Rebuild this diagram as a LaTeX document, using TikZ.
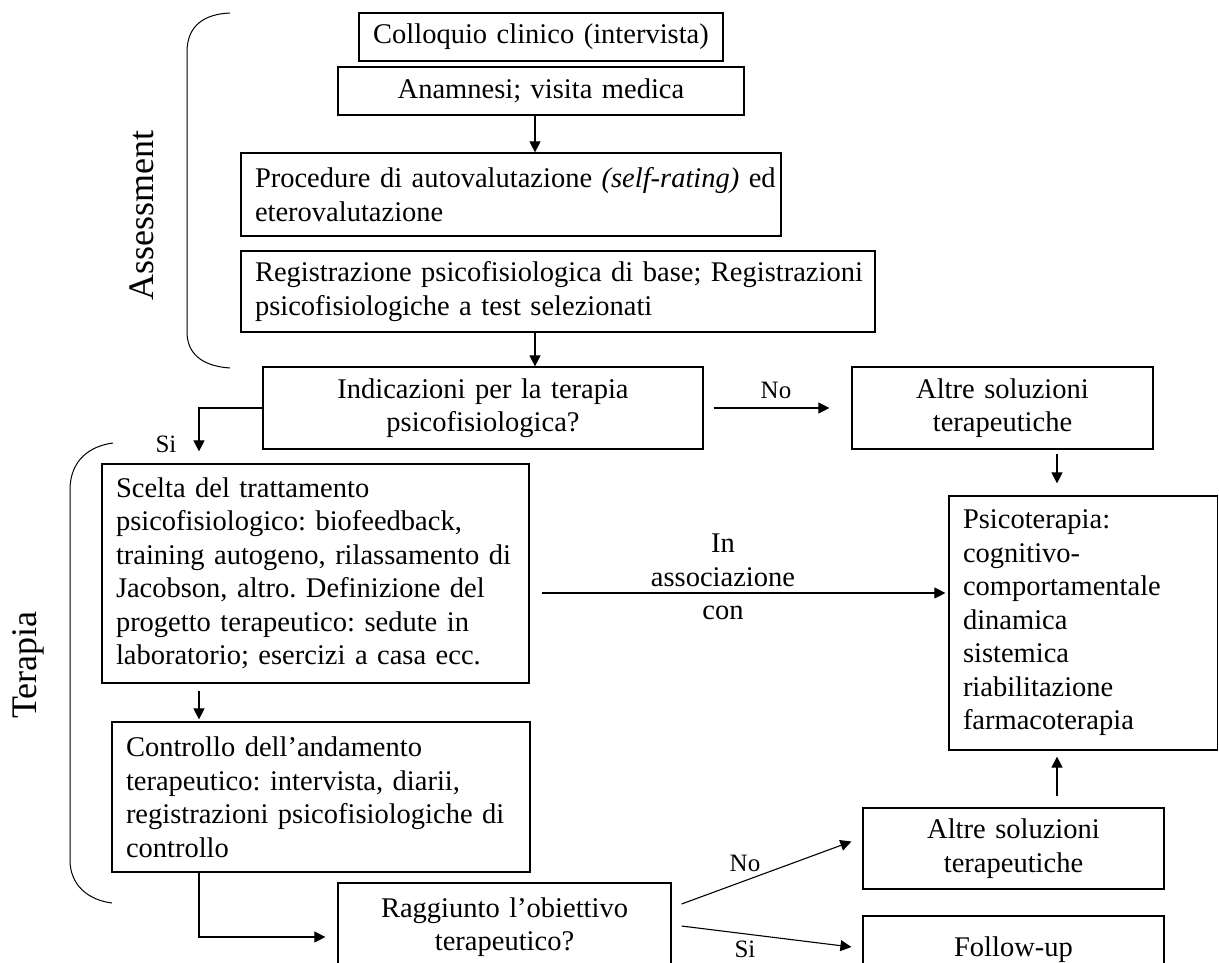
\documentclass[tikz,border=0pt]{standalone}
\usepackage{fontspec}
\setmainfont{Liberation Serif}
\usetikzlibrary{arrows.meta,calc}
\frenchspacing
\begin{document}
\begin{tikzpicture}[x=1pt,y=-1pt,
  box/.style={draw=black, line width=1.2pt, inner xsep=14pt, inner ysep=0pt, font=\fontsize{28.5}{33.5}\selectfont},
  boxl/.style={box, align=left},
  boxc/.style={box, align=center},
  arr/.style={line width=1.1pt, -{Triangle[length=11pt,width=11pt]}},
  lbl/.style={font=\fontsize{25}{28}\selectfont, inner sep=0pt},
  side/.style={font=\fontsize{36}{40}\selectfont, rotate=90, anchor=base, inner sep=0pt},
  brace/.style={line width=1pt}]
\useasboundingbox (0,0) rectangle (1219,962);
\fill[white] (0,0) rectangle (1219,962);
\clip (0,0) rectangle (1219,962);

\node[boxc, text width=336pt, minimum height=48pt] (b1) at (541,37) {Colloquio clinico (intervista)};
\node[boxc, text width=378pt, minimum height=48pt] (b2) at (541,91) {Anamnesi; visita medica};
\node[boxl, text width=512pt, minimum height=83pt] (b3) at (511,194.5) {\mbox{Procedure di autovalutazione \textit{(self-rating)} ed}\\eterovalutazione};
\node[boxl, text width=606pt, minimum height=81pt] (b4) at (558,291.5) {\mbox{Registrazione psicofisiologica di base; Registrazioni}\\psicofisiologiche a test selezionati};
\node[boxc, text width=412pt, minimum height=82pt] (b5) at (483,408) {Indicazioni per la terapia\\psicofisiologica?};
\node[boxc, text width=273pt, minimum height=82pt] (b6) at (1002.5,408) {Altre soluzioni\\terapeutiche};
\node[boxl, text width=240.5pt, minimum height=254pt] (b7) at (1083.25,623) {Psicoterapia:\\cognitivo-\\comportamentale\\dinamica\\sistemica\\riabilitazione\\farmacoterapia};
\node[boxl, text width=399pt, minimum height=219pt] (b8) at (315.5,573.5) {Scelta del trattamento\\ \mbox{psicofisiologico: biofeedback,}\\ \mbox{training autogeno, rilassamento di}\\ \mbox{Jacobson, altro. Definizione del}\\ \mbox{progetto terapeutico: sedute in}\\ \mbox{laboratorio; esercizi a casa ecc.}};
\node[boxl, text width=390pt, minimum height=150pt] (b9) at (321,797) {Controllo dell’andamento\\ \mbox{terapeutico: intervista, diarii,}\\ \mbox{registrazioni psicofisiologiche di}\\controllo};
\node[boxc, text width=305pt, minimum height=88pt] (b10) at (504.5,927) {Raggiunto l’obiettivo\\terapeutico?};
\node[boxc, text width=273pt, minimum height=81pt] (b11) at (1013.5,848.5) {Altre soluzioni\\terapeutiche};
\node[boxc, text width=273pt, minimum height=68pt] (b12) at (1013.5,950) {Follow-up};

\coordinate (colL) at (199,0);
\coordinate (colM) at (535,0);
\coordinate (colR) at (1057,0);
\coordinate (rowA) at (0,593);
\coordinate (rowB) at (0,937);

\draw[arr] (b2.south -| colM) -- (b3.north -| colM);
\draw[arr] (b4.south -| colM) -- (b5.north -| colM);
\draw[arr] ($(b5.east)+(10,0)$) -- ($(b6.west)+(-22,0)$);
\draw[arr] (b5.west) -| ($(b8.north -| colL)+(0,-12)$);
\draw[arr] ($(b6.south -| colR)+(0,4)$) -- ($(b7.north -| colR)+(0,-12)$);
\draw[arr] ($(b8.east |- rowA)+(12,0)$) -- ($(b7.west |- rowA)+(-3,0)$);
\draw[arr] ($(b8.south -| colL)+(0,7)$) -- ($(b9.north -| colL)+(0,-2)$);
\draw[arr] (b9.south -| colL) |- ($(b10.west |- rowB)+(-12,0)$);
\draw[arr] ($(b10.east)+(10,-23)$) -- ($(b11.west)+(-11,-7)$);
\draw[arr] ($(b10.east)+(10,-1)$) -- ($(b12.west)+(-11,-3)$);
\draw[arr] ($(b11.north -| colR)+(0,-11)$) -- ($(b7.south -| colR)+(0,6)$);

\node[lbl, anchor=base] (lno1) at (776,398) {No};
\node[lbl, anchor=base] (lsi1) at (166,452) {Si};
\node[lbl, anchor=base] (lno2) at (745,871) {No};
\node[lbl, anchor=base] (lsi2) at (745,957) {Si};
\node[font=\fontsize{28.5}{33.5}\selectfont, align=center, inner sep=0pt] (lass) at (723,577) {In\\associazione\\con};
\node[side] (assess) at (153,215) {Assessment};
\node[side] (terap) at (36,665) {Terapia};

\draw[brace] (230,13) .. controls (205,14) and (187,25) .. (187,52) -- (187,332) .. controls (187,352) and (200,366) .. (230,368);
\draw[brace] (113,443) .. controls (90,446) and (70,460) .. (70,490) -- (70,860) .. controls (70,885) and (88,900) .. (112,903);
\end{tikzpicture}
\end{document}
